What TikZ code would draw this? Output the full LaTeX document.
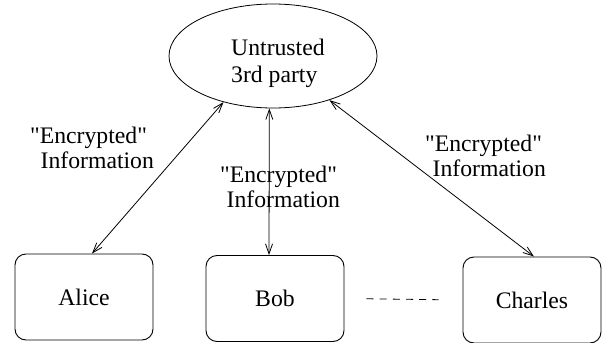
\documentclass[tikz,border=0pt]{standalone}
\usepackage{fontspec}
\setmainfont{Liberation Serif}
\usetikzlibrary{arrows.meta,calc,shapes.geometric}
\tikzset{
  txt/.style={font=\fontsize{23.7}{24.7}\selectfont, inner sep=0pt},
  party/.style={draw, line width=0.9pt, rounded corners=11pt, minimum width=138pt, minimum height=86pt, inner sep=0pt, font=\fontsize{23.7}{24.7}\selectfont},
  flow/.style={line width=0.8pt, {Straight Barb[length=10pt,width=7pt]}-{Straight Barb[length=10pt,width=7pt]}},
}
\begin{document}
\begin{tikzpicture}[x=1pt,y=-1pt]
\useasboundingbox (0,0) rectangle (606,343);
\node[draw, ellipse, line width=0.8pt, minimum width=208pt, minimum height=104pt, inner sep=0pt] (ttp) at (273,56) {};
\node[txt, align=left, anchor=base west] (ttptext) at (231,82) {Untrusted\\[2pt]3rd party};
\node[party] (alice) at (84,297) {Alice};
\node[party] (bob) at (275,298.5) {Bob};
\node[party] (charles) at (532,300) {Charles};
\draw[flow] ($(alice.north)+(8,0)$) -- (ttp.223);
\draw[flow] ($(bob.north)+(-6,0)$) -- (ttp.266);
\draw[flow] ($(charles.north)+(2,0)$) -- (ttp.322.7);
\draw[line width=0.8pt, dash pattern=on 7pt off 6.2pt, shorten <=22pt, shorten >=24pt] (bob.east) -- (charles.west);
\node[txt, align=left, anchor=base west] (lab1) at (30,168) {\textquotedbl Encrypted\textquotedbl\\\hspace*{10.5pt}Information};
\node[txt, align=left, anchor=base west] (lab2) at (220,207) {\textquotedbl Encrypted\textquotedbl\\\hspace*{6.5pt}Information};
\node[txt, align=left, anchor=base west] (lab3) at (425,176) {\textquotedbl Encrypted\textquotedbl\\\hspace*{7.5pt}Information};
\end{tikzpicture}
\end{document}
